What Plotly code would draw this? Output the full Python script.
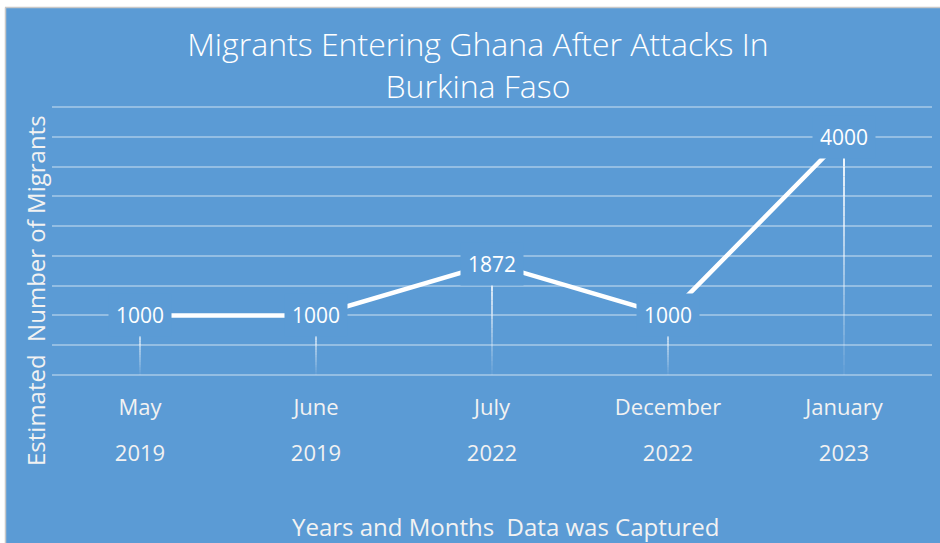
import plotly.graph_objects as go

months = ["May", "June", "July", "December", "January"]
years = ["2019", "2019", "2022", "2022", "2023"]
migrants = [1000, 1000, 1872, 1000, 4000]

BLUE = "#5B9BD5"
FONT = "Open Sans"

x_idx = list(range(len(months)))

fig = go.Figure()
fig.add_trace(go.Scatter(
    x=x_idx, y=migrants, mode="lines",
    line=dict(color="white", width=4.5),
    hoverinfo="skip", showlegend=False,
))
# invisible companion trace so the year axis gets drawn
fig.add_trace(go.Scatter(
    x=x_idx, y=migrants, xaxis="x2", mode="markers",
    marker=dict(opacity=0), hoverinfo="skip", showlegend=False,
))

# gradient drop lines from each point to zero
shapes = []
N = 24
for xi, v in zip(x_idx, migrants):
    for k in range(N):
        y_top = v * (1 - k / N)
        y_bot = v * (1 - (k + 1) / N)
        op = 0.95 * (1 - k / N) + 0.02
        shapes.append(dict(type="line", xref="x", yref="y", x0=xi, x1=xi,
                           y0=y_top, y1=y_bot, layer="below",
                           line=dict(color="rgba(255,255,255,%.3f)" % op, width=2)))

# layout helpers: page pixels -> paper fractions
PL, PR, PT, PB = 52, 932, 105, 377

def px_x(p):
    return (p - PL) / float(PR - PL)

def px_y(p):
    return (PB - p) / float(PB - PT)

# white outer frame (chart area border)
shapes.append(dict(type="rect", xref="paper", yref="paper", x0=px_x(-5), x1=px_x(5),
                   y0=px_y(560), y1=px_y(-10), fillcolor="white", line=dict(width=0), layer="below"))
shapes.append(dict(type="rect", xref="paper", yref="paper", x0=px_x(-5), x1=px_x(950),
                   y0=px_y(7), y1=px_y(-10), fillcolor="white", line=dict(width=0), layer="below"))
shapes.append(dict(type="line", xref="paper", yref="paper", x0=px_x(5.5), x1=px_x(5.5),
                   y0=px_y(560), y1=px_y(7.5), line=dict(color="#C8C8C8", width=1.5), layer="below"))
shapes.append(dict(type="line", xref="paper", yref="paper", x0=px_x(5), x1=px_x(950),
                   y0=px_y(7.5), y1=px_y(7.5), line=dict(color="#C8C8C8", width=1.5), layer="below"))

annotations = []
for xi, v in zip(x_idx, migrants):
    annotations.append(dict(x=xi, y=v, xref="x", yref="y", text=str(v), showarrow=False,
                            xanchor="center", yanchor="middle",
                            font=dict(family=FONT, size=21, color="white"),
                            bgcolor=BLUE, borderpad=7))

annotations.append(dict(x=px_x(505), y=px_y(526), xref="paper", yref="paper",
                        xanchor="center", yanchor="middle",
                        text="Years and Months  Data was Captured", showarrow=False,
                        font=dict(family=FONT, size=24, color="#F2F2F2")))
annotations.append(dict(x=px_x(35), y=px_y(291), xref="paper", yref="paper",
                        xanchor="center", yanchor="middle",
                        text="Estimated  Number of Migrants", showarrow=False, textangle=-90,
                        font=dict(family=FONT, size=24, color="#F2F2F2")))

extra = 2 * 4500.0 / 268.0
fig.update_layout(
    template="none",
    width=940, height=543,
    margin=dict(l=PL, r=940 - PR, t=PT, b=543 - PB, autoexpand=False),
    paper_bgcolor=BLUE, plot_bgcolor=BLUE,
    title=dict(text="Migrants Entering Ghana After Attacks In<br>Burkina Faso",
               x=px_x(478), xref="paper", xanchor="center", y=0.897, yanchor="top",
               font=dict(family=FONT, size=32, color="white", weight=300)),
    xaxis=dict(tickmode="array", tickvals=x_idx, ticktext=months,
               range=[-0.5, len(months) - 0.5], showgrid=False, zeroline=False,
               showline=False, ticks="", ticklabelstandoff=15, automargin=False,
               tickfont=dict(family=FONT, size=22, color="#F2F2F2")),
    xaxis2=dict(tickmode="array", tickvals=x_idx, ticktext=years, overlaying="x",
                side="bottom", anchor="y",
                range=[-0.5, len(months) - 0.5], showgrid=False, zeroline=False,
                showline=False, ticks="", ticklabelstandoff=61, automargin=False,
                tickfont=dict(family=FONT, size=22, color="#F2F2F2")),
    yaxis=dict(range=[-extra, 4500 + extra], tickmode="linear", tick0=0, dtick=500,
               showticklabels=False, ticks="",
               showgrid=True, gridcolor="rgba(255,255,255,0.35)", gridwidth=1.5,
               zeroline=False, showline=False, automargin=False),
    shapes=shapes, annotations=annotations,
)

fig.write_html("out.html", config={"displayModeBar": False},
               post_script="document.body.style.margin='0';document.body.style.padding='0';")
